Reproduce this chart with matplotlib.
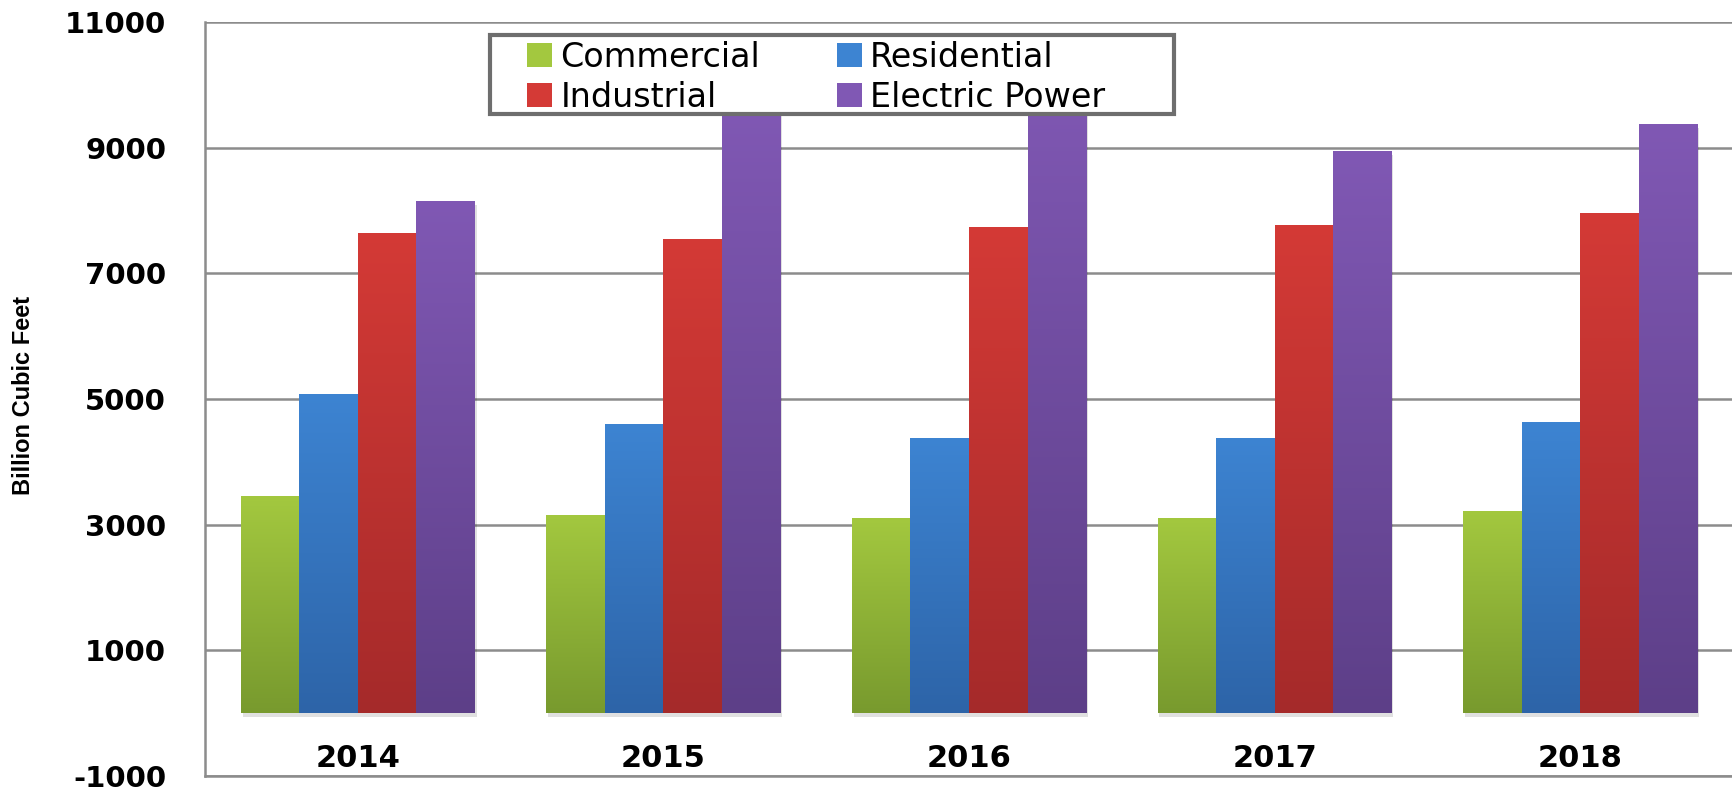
import numpy as np
import matplotlib.pyplot as plt
from matplotlib.colors import LinearSegmentedColormap
from matplotlib.patches import Patch, Rectangle

plt.rcParams['axes.unicode_minus'] = False

# Natural gas consumption by sector (billion cubic feet)
years = ['2014', '2015', '2016', '2017', '2018']
commercial = [3450, 3160, 3100, 3100, 3220]
residential = [5080, 4600, 4380, 4380, 4630]
industrial = [7640, 7545, 7735, 7770, 7960]
electric = [8150, 9610, 10170, 8950, 9370]

series = [
    ('Commercial', commercial, '#a3c83f', '#789a2e'),
    ('Residential', residential, '#3d84d2', '#2d64a8'),
    ('Industrial', industrial, '#d43a36', '#a52a2a'),
    ('Electric Power', electric, '#8058b4', '#5d3f88'),
]

fig = plt.figure(figsize=(17.33, 7.87), dpi=100)
ax = fig.add_axes([205 / 1733, 11 / 787, 1528 / 1733, 754 / 787])

x = np.arange(len(years))
width = 0.1915
offsets = (np.arange(4) - 1.5) * width

grad = np.linspace(0, 1, 256).reshape(-1, 1)
handles = []
for k, (name, vals, top, bottom) in enumerate(series):
    bars = ax.bar(x + offsets[k], vals, width, color='none', edgecolor='none', zorder=3)
    cmap = LinearSegmentedColormap.from_list(name, [bottom, top])
    for b in bars:
        bx, by = b.get_x(), b.get_y()
        bw, bh = b.get_width(), b.get_height()
        # soft shadow
        ax.bar(bx + bw / 2 + 0.006, bh, bw, bottom=by - 60, color='#000000', alpha=0.12,
               zorder=2, linewidth=0)
        im = ax.imshow(grad, cmap=cmap, origin='lower', aspect='auto',
                       extent=[bx, bx + bw, by, by + bh], zorder=3)
        im.set_clip_path(b)
    handles.append(Patch(facecolor=top, edgecolor='none', label=name))

ax.set_xlim(-0.5, len(years) - 0.5)
ax.set_ylim(-1000, 11000)
ax.set_yticks(np.arange(-1000, 11001, 2000))
ax.set_xticks(x)
ax.set_xticklabels(years)

ax.grid(axis='y', color='#8c8c8c', linewidth=1.8, zorder=0)
ax.set_axisbelow(True)
for s in ['top', 'right']:
    ax.spines[s].set_visible(False)
for s in ['left', 'bottom']:
    ax.spines[s].set_color('#8c8c8c')
    ax.spines[s].set_linewidth(1.8)

ax.tick_params(axis='y', length=0, pad=28, labelsize=21)
ax.tick_params(axis='x', length=0, pad=-23, labelsize=22)
for lab in ax.get_yticklabels() + ax.get_xticklabels():
    lab.set_fontweight('bold')
    lab.set_family('DejaVu Sans')

ax.set_ylabel('Billion Cubic Feet', fontsize=17, fontweight='bold',
              family=['Liberation Sans', 'DejaVu Sans'])
ax.yaxis.set_label_coords(-0.111, 0.505)

# legend box drawn on top of the bars
box = Rectangle((0.1865, 0.878), 0.4475, 0.105, transform=ax.transAxes,
                facecolor='white', edgecolor='#6e6e6e', linewidth=3, zorder=9,
                clip_on=False)
ax.add_patch(box)

order = [0, 2, 1, 3]
leg = ax.legend([handles[i] for i in order], [series[i][0] for i in order],
                ncol=2, loc='upper left', bbox_to_anchor=(0.2107, 0.975),
                frameon=False, prop={'size': 24, 'family': 'DejaVu Sans'},
                handlelength=0.75, handleheight=0.75, handletextpad=0.25,
                columnspacing=2.3, borderpad=0, labelspacing=0.2,
                borderaxespad=0)
leg.set_zorder(10)

fig.savefig('out.png', dpi=100)
